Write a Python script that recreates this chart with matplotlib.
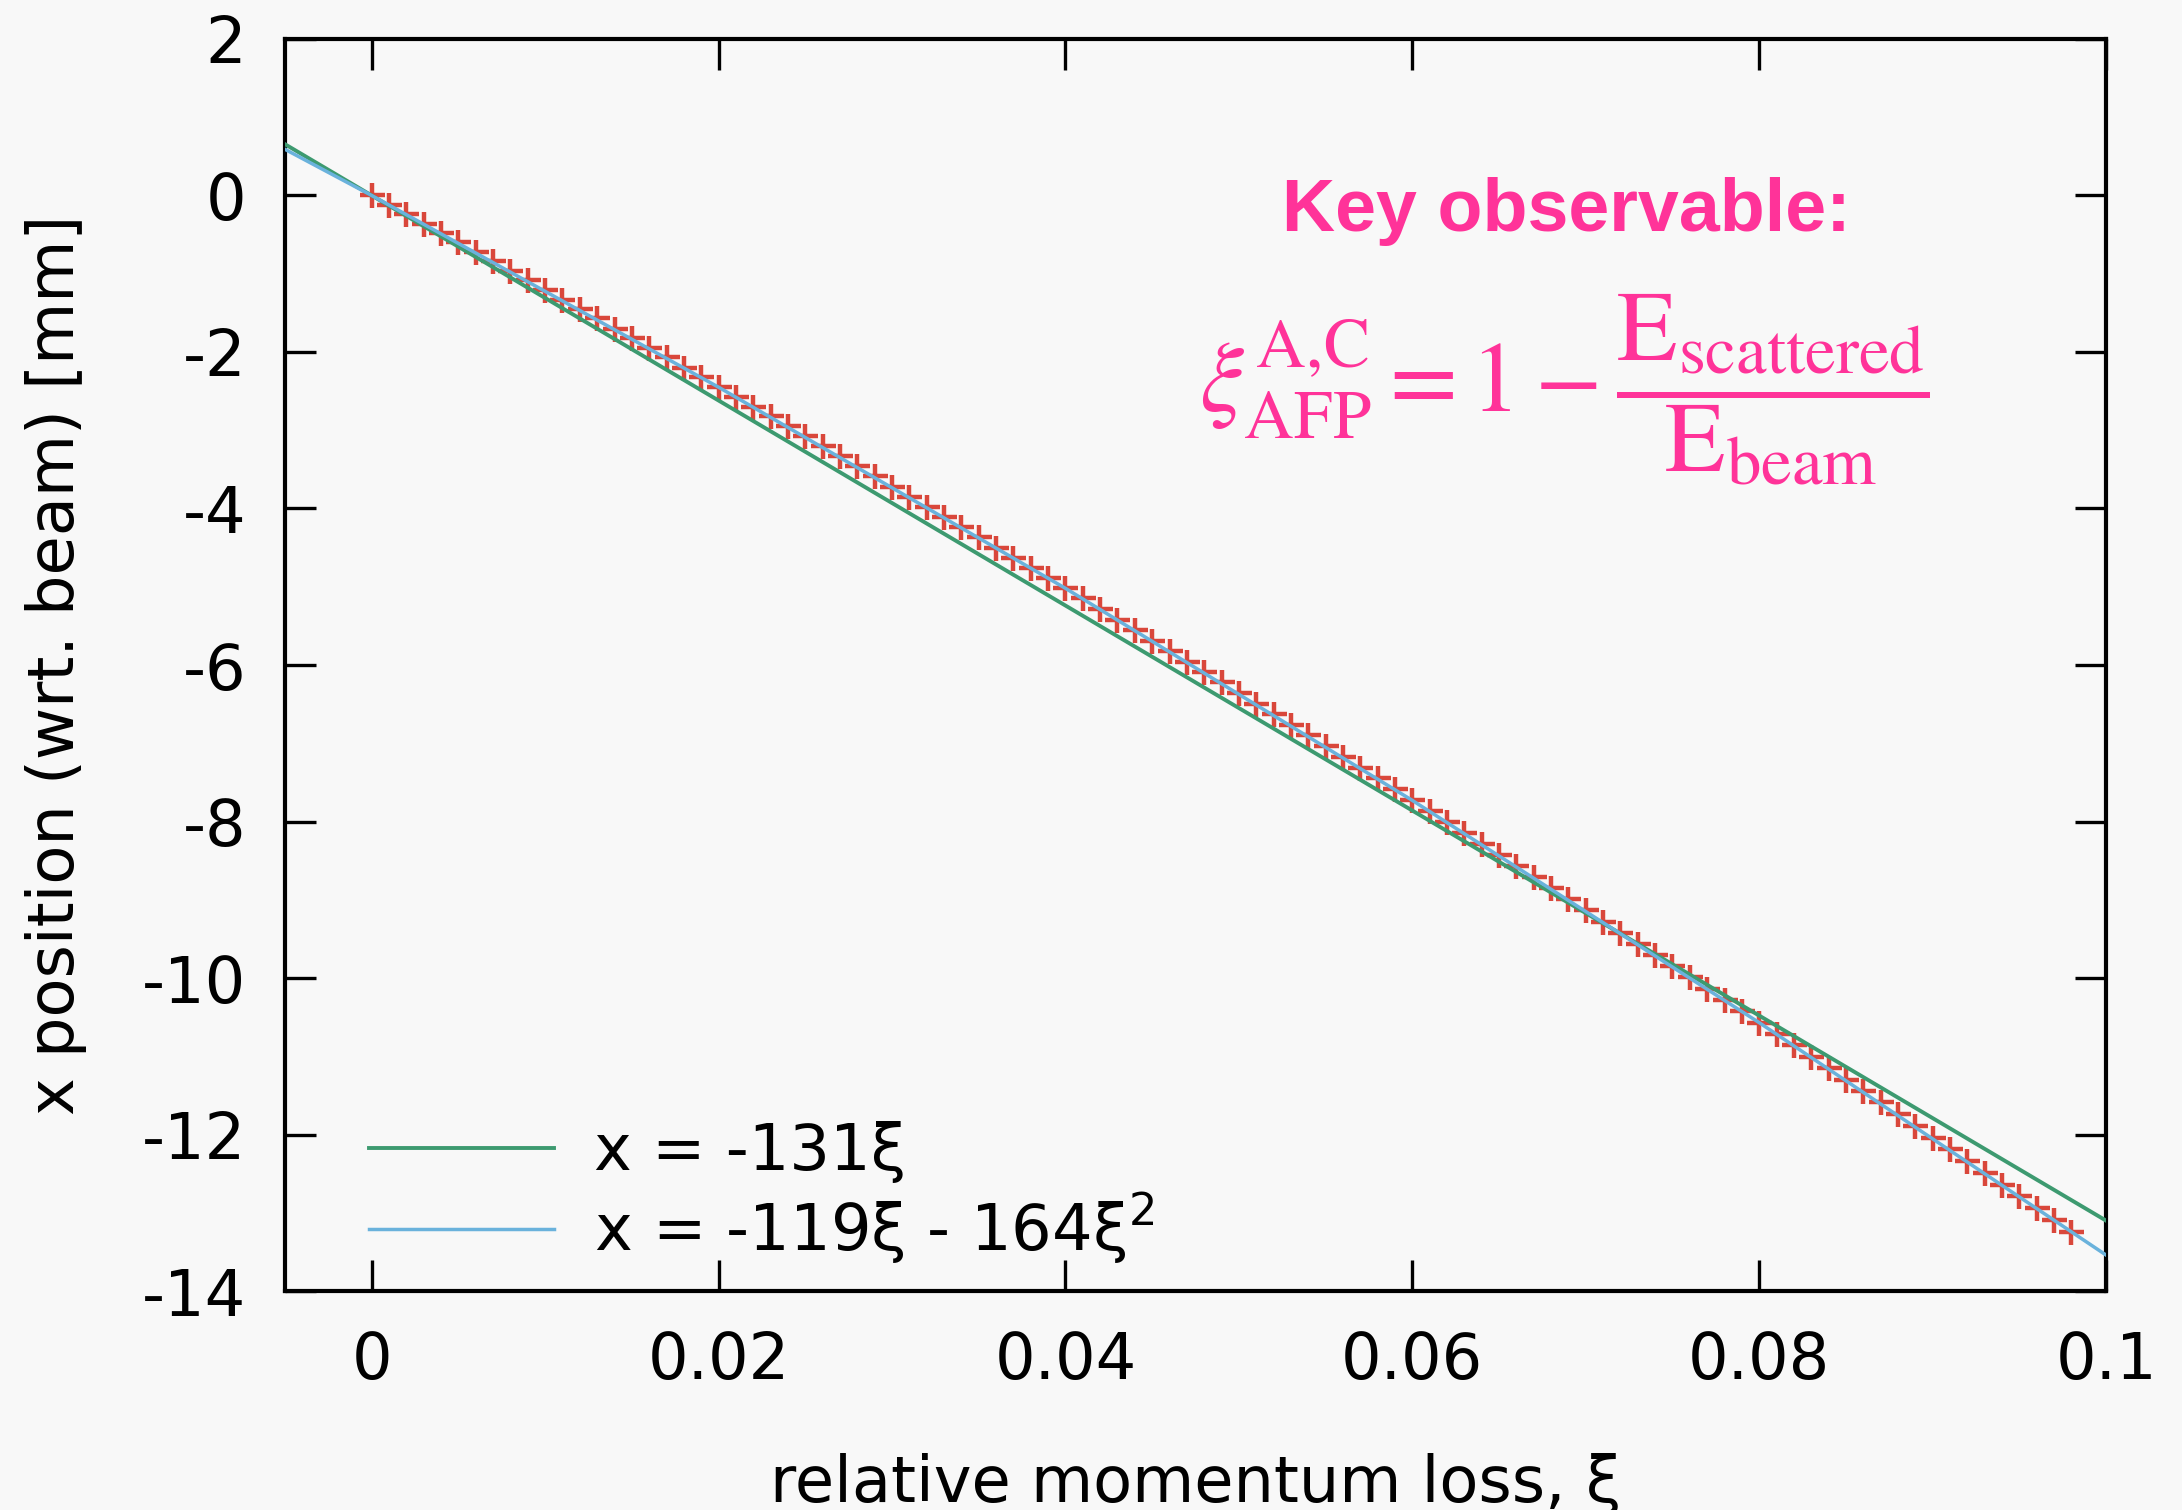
import matplotlib
matplotlib.use("Agg")
import matplotlib.pyplot as plt

# measured points (red crosses), xi step 0.001
xi_meas = [k / 1000 for k in range(99)]
x_meas = [0.00, -0.12, -0.24, -0.36, -0.48, -0.60, -0.72, -0.84, -0.96, -1.08,
          -1.21, -1.33, -1.45, -1.57, -1.70, -1.82, -1.95, -2.07, -2.20, -2.32,
          -2.45, -2.57, -2.70, -2.82, -2.95, -3.08, -3.20, -3.33, -3.46, -3.59,
          -3.72, -3.85, -3.98, -4.11, -4.24, -4.37, -4.50, -4.63, -4.76, -4.89,
          -5.02, -5.15, -5.29, -5.42, -5.55, -5.69, -5.82, -5.96, -6.09, -6.22,
          -6.36, -6.50, -6.63, -6.77, -6.90, -7.04, -7.18, -7.32, -7.45, -7.59,
          -7.73, -7.87, -8.01, -8.15, -8.29, -8.43, -8.57, -8.71, -8.85, -8.99,
          -9.13, -9.28, -9.42, -9.56, -9.70, -9.85, -9.99, -10.14, -10.28, -10.42,
          -10.57, -10.72, -10.86, -11.01, -11.15, -11.30, -11.45, -11.59, -11.74, -11.89,
          -12.04, -12.19, -12.34, -12.49, -12.64, -12.79, -12.94, -13.09, -13.24]

# linear fit line
lin_xi = [-0.005, 0.1]
lin_x = [0.655, -13.1]

# quadratic fit line
quad_xi = [-0.005, 0.0, 0.02, 0.04, 0.06, 0.08, 0.1]
quad_x = [0.59, 0.0, -2.45, -5.02, -7.73, -10.57, -13.54]

labels = ["x = -131ξ", "x = -119ξ - 164ξ$^2$"]
xticks = [0, 0.02, 0.04, 0.06, 0.08, 0.1]
xticklabels = ["0", "0.02", "0.04", "0.06", "0.08", "0.1"]
yticks = [2, 0, -2, -4, -6, -8, -10, -12, -14]

bg = "#f8f8f8"
pink = "#ff3399"

plt.rcParams['font.family'] = ['DejaVu Sans']
plt.rcParams['mathtext.fontset'] = 'dejavusans'
plt.rcParams['axes.unicode_minus'] = False

fig = plt.figure(figsize=(21.82, 15.10), dpi=100, facecolor=bg)
ax = fig.add_axes([0.1306, 0.145, 0.8346, 0.8292], facecolor=bg)

ax.plot(xi_meas, x_meas, '+', color="#d9473b", markersize=18, markeredgewidth=3.2, zorder=2)
ax.plot(lin_xi, lin_x, color="#3d9a70", lw=2.8, label=labels[0], zorder=3)
ax.plot(quad_xi, quad_x, color="#6ab2dc", lw=2.5, label=labels[1], zorder=4)

ax.set_xlim(-0.005, 0.1)
ax.set_ylim(-14, 2)
ax.set_xticks(xticks)
ax.set_xticklabels(xticklabels)
ax.set_yticks(yticks)
ax.tick_params(direction='in', top=True, right=True, length=22, width=2.4,
               labelsize=46, pad=28)
for s in ax.spines.values():
    s.set_linewidth(3.0)

ax.set_xlabel("relative momentum loss, ξ", fontsize=46)
ax.xaxis.label.set_va('baseline')
ax.xaxis.set_label_coords(0.5, -0.1685)
ax.set_ylabel("x position (wrt. beam) [mm]", fontsize=46)
ax.yaxis.label.set_va('center')
ax.yaxis.set_label_coords(-0.1258, 0.5)

ax.legend(loc='lower left', bbox_to_anchor=(0.046, 0.02), frameon=False,
          fontsize=46, handlelength=2.9, handletextpad=0.62, labelspacing=0.12,
          borderpad=0, borderaxespad=0)

fig.text(0.718, 0.860, "Key observable:", color=pink, fontsize=53,
         fontweight='bold', family='Liberation Sans', ha='center', va='center')
fig.text(0.717, 0.742,
         r"$\xi^{\mathrm{A,\!C}}_{\mathrm{AFP}} = 1 - \dfrac{\mathrm{E}_{\mathrm{scattered}}}{\mathrm{E}_{\mathrm{beam}}}$",
         color=pink, fontsize=71, ha='center', va='center', math_fontfamily='stix')

fig.savefig("out.png", dpi=100, facecolor=bg)
